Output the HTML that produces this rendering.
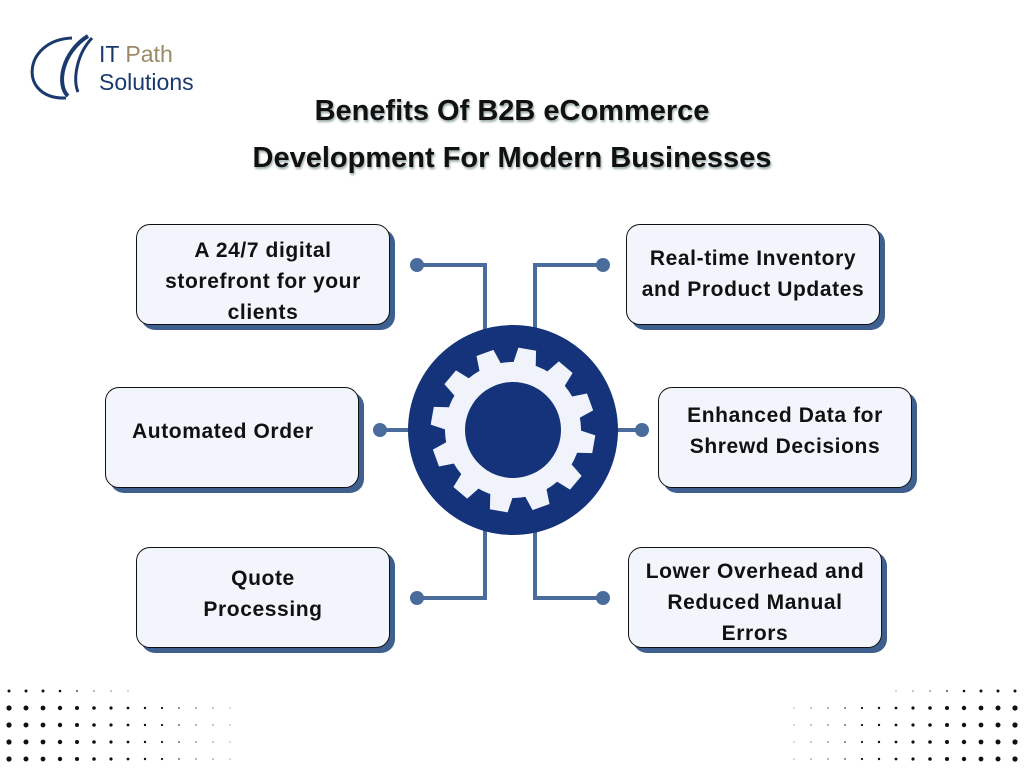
<!DOCTYPE html>
<html><head><meta charset="utf-8"><style>
body{margin:0;width:1024px;height:768px;background:#fff;position:relative;overflow:hidden;font-family:"Liberation Sans",sans-serif}
.t{position:absolute;left:0;width:1024px;text-align:center;font-weight:bold;font-size:29px;color:#111;text-shadow:1px 2px 2px #9aa}
.b{position:absolute;width:254px;height:101px;background:#f2f6fc;border:1.5px solid #111;border-radius:14px;box-shadow:5px 5px 0 #3f5f8f;display:flex;align-items:center;justify-content:center;text-align:center;font-weight:bold;font-size:21px;letter-spacing:0.6px;line-height:31px;color:#111;box-sizing:border-box}
.b span{position:relative}
</style></head><body>
<svg style="position:absolute;left:0;top:0" width="1024" height="768">
<defs>
<g id="row"><circle cx="9" cy="0" r="2.6"/><circle cx="26" cy="0" r="2.5"/><circle cx="43" cy="0" r="2.4"/><circle cx="60" cy="0" r="2.2"/><circle cx="77" cy="0" r="2"/><circle cx="94" cy="0" r="1.8"/><circle cx="111" cy="0" r="1.6"/><circle cx="128" cy="0" r="1.4"/><circle cx="145" cy="0" r="1.2"/><circle cx="162" cy="0" r="1.1"/><circle cx="179" cy="0" r="1" opacity=".6"/><circle cx="196" cy="0" r="1" opacity=".4"/><circle cx="213" cy="0" r="1" opacity=".3"/><circle cx="230" cy="0" r="1" opacity=".2"/></g>
<g id="dots"><circle cx="9" cy="691" r="1.5"/><circle cx="26" cy="691" r="1.5"/><circle cx="43" cy="691" r="1.5"/><circle cx="60" cy="691" r="1.3"/><circle cx="77" cy="691" r="1.1" opacity=".6"/><circle cx="94" cy="691" r="1" opacity=".4"/><circle cx="111" cy="691" r="1" opacity=".3"/><circle cx="128" cy="691" r="1" opacity=".2"/></g>
<g id="t"><path d="M-12 -62 L-9 -82 H9 L12 -62 Z"/></g>
</defs>
<g fill="none" stroke="#1a3a6e" stroke-width="3">
<path d="M72 38 C22 40 18 100 66 98"/><path d="M88 36 C62 52 56 85 68 96" stroke-width="4"/><path d="M92 38 C76 55 73 80 78 92"/>
</g>
<g stroke="#4a6c9c" stroke-width="4" fill="none">
<path d="M417 265 H485 V330"/><path d="M603 265 H535 V330"/><path d="M380 430 H410"/><path d="M616 430 H640"/>
<path d="M417 598 H485 V530"/><path d="M603 598 H535 V530"/>
</g>
<g fill="#4a6c9c"><circle cx="417" cy="265" r="7"/><circle cx="603" cy="265" r="7"/><circle cx="380" cy="430" r="7"/><circle cx="642" cy="430" r="7"/><circle cx="417" cy="598" r="7"/><circle cx="603" cy="598" r="7"/></g>
<circle cx="513" cy="430" r="105" fill="#14337a"/>
<g transform="translate(513,430) rotate(10)" fill="#f0f4fa">
<circle r="68"/>
<use href="#t"/>
<use href="#t" transform="rotate(30)"/><use href="#t" transform="rotate(60)"/><use href="#t" transform="rotate(90)"/><use href="#t" transform="rotate(120)"/><use href="#t" transform="rotate(150)"/><use href="#t" transform="rotate(180)"/><use href="#t" transform="rotate(210)"/><use href="#t" transform="rotate(240)"/><use href="#t" transform="rotate(270)"/><use href="#t" transform="rotate(300)"/><use href="#t" transform="rotate(330)"/>
<circle r="48" fill="#14337a"/>
</g>
<g fill="#111">
<use href="#dots"/>
<use href="#row" y="708"/><use href="#row" y="725"/><use href="#row" y="742"/><use href="#row" y="759"/>
<g transform="translate(1024,0) scale(-1,1)"><use href="#dots"/><use href="#row" y="708"/><use href="#row" y="725"/><use href="#row" y="742"/><use href="#row" y="759"/></g>
</g>
</svg>
<div style="position:absolute;left:99px;top:40px;font-size:23px;line-height:28px;color:#1a3a6e"><span>IT </span><span style="color:#9b8a66">Path</span><br>Solutions</div>
<div class="t" style="top:95px">Benefits Of B2B eCommerce</div>
<div class="t" style="top:142px">Development For Modern Businesses</div>
<div class="b" style="left:136px;top:224px"><span style="top:7px">A 24/7 digital<br>storefront for your<br>clients</span></div>
<div class="b" style="left:105px;top:387px;justify-content:flex-start;padding-left:26px"><span style="top:-6px">Automated Order</span></div>
<div class="b" style="left:136px;top:547px"><span style="top:-4px">Quote<br>Processing</span></div>
<div class="b" style="left:626px;top:224px"><span style="top:-1px">Real-time Inventory<br>and Product Updates</span></div>
<div class="b" style="left:658px;top:387px"><span style="top:-7px">Enhanced Data for<br>Shrewd Decisions</span></div>
<div class="b" style="left:628px;top:547px"><span style="top:5px">Lower Overhead and<br>Reduced Manual<br>Errors</span></div>
</body></html>
